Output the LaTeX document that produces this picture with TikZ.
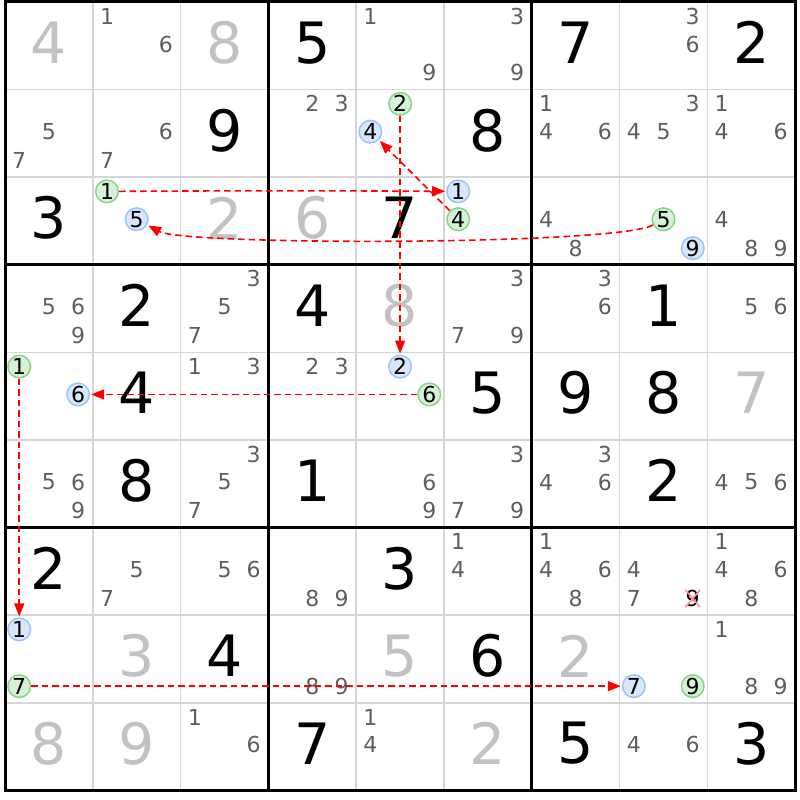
\documentclass[tikz,border=0pt]{standalone}
\usepackage{fontspec}
\setmainfont{DejaVu Sans}
\usetikzlibrary{calc,arrows.meta}

\definecolor{candgray}{HTML}{5E5E5E}
\definecolor{solvedgray}{HTML}{C2C2C2}
\definecolor{linegray}{HTML}{D6D6D6}
\definecolor{onfill}{HTML}{D6F2D6}
\definecolor{ondraw}{HTML}{86D686}
\definecolor{offfill}{HTML}{D8E8FC}
\definecolor{offdraw}{HTML}{98C6FA}
\definecolor{elimred}{HTML}{FF8A8A}
\definecolor{linkred}{HTML}{FF0000}

\begin{document}
\begin{tikzpicture}[x=87.8pt,y=-87.6pt]

\tikzset{inner sep=0pt,
given/.style={font=\fontsize{57}{57}\selectfont,text=black},
solved/.style={font=\fontsize{57}{57}\selectfont,text=solvedgray},
cand/.style={font=\fontsize{22}{22}\selectfont,text=candgray},
oncand/.style={circle,minimum size=22.6pt,line width=1.5pt,draw=ondraw,fill=onfill,font=\fontsize{22}{22}\selectfont,text=black},
offcand/.style={circle,minimum size=22.6pt,line width=1.5pt,draw=offdraw,fill=offfill,font=\fontsize{22}{22}\selectfont,text=black},
thinline/.style={line width=1.6pt,draw=linegray},
boxline/.style={line width=3pt,draw=black,line cap=rect},
chain/.style={->,>={Triangle[length=13pt,width=10pt]},color=linkred,line width=1.6pt,dash pattern=on 6.5pt off 4pt,shorten >=1pt},
elim/.style={elimred,line width=1.6pt}}

\useasboundingbox (-0.057,-0.0228) rectangle (9.0547,9.1096);

% Grid
\draw[thinline] (1,0) -- (1,9) (2,0) -- (2,9) (4,0) -- (4,9) (5,0) -- (5,9) (7,0) -- (7,9) (8,0) -- (8,9);
\draw[thinline] (0,1) -- (9,1) (0,2) -- (9,2) (0,4) -- (9,4) (0,5) -- (9,5) (0,7) -- (9,7) (0,8) -- (9,8);
\draw[boxline] (0,0) rectangle (9,9);
\draw[boxline] (3,0) -- (3,9) (6,0) -- (6,9) (0,3) -- (9,3) (0,6) -- (9,6);

% Nodes: cell centres and candidate offsets
\coordinate (col1) at (0.5,0);
\coordinate (col2) at (1.5,0);
\coordinate (col3) at (2.5,0);
\coordinate (col4) at (3.5,0);
\coordinate (col5) at (4.5,0);
\coordinate (col6) at (5.5,0);
\coordinate (col7) at (6.5,0);
\coordinate (col8) at (7.5,0);
\coordinate (col9) at (8.5,0);
\coordinate (row1) at (0,0.5);
\coordinate (row2) at (0,1.5);
\coordinate (row3) at (0,2.5);
\coordinate (row4) at (0,3.5);
\coordinate (row5) at (0,4.5);
\coordinate (row6) at (0,5.5);
\coordinate (row7) at (0,6.5);
\coordinate (row8) at (0,7.5);
\coordinate (row9) at (0,8.5);
\coordinate (mid) at (0,-0.035);
\coordinate (sub1) at (-0.338,-0.338);
\coordinate (sub2) at (0,-0.338);
\coordinate (sub3) at (0.333,-0.338);
\coordinate (sub4) at (-0.338,-0.02);
\coordinate (sub5) at (0,-0.02);
\coordinate (sub6) at (0.333,-0.02);
\coordinate (sub7) at (-0.338,0.31);
\coordinate (sub8) at (0,0.31);
\coordinate (sub9) at (0.333,0.31);

% Givens and solved cells
\node[solved] (r1c1) at ($(col1) + (row1) + (mid)$) {4};
\node[solved] (r1c3) at ($(col3) + (row1) + (mid)$) {8};
\node[given] (r1c4) at ($(col4) + (row1) + (mid)$) {5};
\node[given] (r1c7) at ($(col7) + (row1) + (mid)$) {7};
\node[given] (r1c9) at ($(col9) + (row1) + (mid)$) {2};

\node[given] (r2c3) at ($(col3) + (row2) + (mid)$) {9};
\node[given] (r2c6) at ($(col6) + (row2) + (mid)$) {8};

\node[given] (r3c1) at ($(col1) + (row3) + (mid)$) {3};
\node[solved] (r3c3) at ($(col3) + (row3) + (mid)$) {2};
\node[solved] (r3c4) at ($(col4) + (row3) + (mid)$) {6};
\node[given] (r3c5) at ($(col5) + (row3) + (mid)$) {7};

\node[given] (r4c2) at ($(col2) + (row4) + (mid)$) {2};
\node[given] (r4c4) at ($(col4) + (row4) + (mid)$) {4};
\node[solved] (r4c5) at ($(col5) + (row4) + (mid)$) {8};
\node[given] (r4c8) at ($(col8) + (row4) + (mid)$) {1};

\node[given] (r5c2) at ($(col2) + (row5) + (mid)$) {4};
\node[given] (r5c6) at ($(col6) + (row5) + (mid)$) {5};
\node[given] (r5c7) at ($(col7) + (row5) + (mid)$) {9};
\node[given] (r5c8) at ($(col8) + (row5) + (mid)$) {8};
\node[solved] (r5c9) at ($(col9) + (row5) + (mid)$) {7};

\node[given] (r6c2) at ($(col2) + (row6) + (mid)$) {8};
\node[given] (r6c4) at ($(col4) + (row6) + (mid)$) {1};
\node[given] (r6c8) at ($(col8) + (row6) + (mid)$) {2};

\node[given] (r7c1) at ($(col1) + (row7) + (mid)$) {2};
\node[given] (r7c5) at ($(col5) + (row7) + (mid)$) {3};

\node[solved] (r8c2) at ($(col2) + (row8) + (mid)$) {3};
\node[given] (r8c3) at ($(col3) + (row8) + (mid)$) {4};
\node[solved] (r8c5) at ($(col5) + (row8) + (mid)$) {5};
\node[given] (r8c6) at ($(col6) + (row8) + (mid)$) {6};
\node[solved] (r8c7) at ($(col7) + (row8) + (mid)$) {2};

\node[solved] (r9c1) at ($(col1) + (row9) + (mid)$) {8};
\node[solved] (r9c2) at ($(col2) + (row9) + (mid)$) {9};
\node[given] (r9c4) at ($(col4) + (row9) + (mid)$) {7};
\node[solved] (r9c6) at ($(col6) + (row9) + (mid)$) {2};
\node[given] (r9c7) at ($(col7) + (row9) + (mid)$) {5};
\node[given] (r9c9) at ($(col9) + (row9) + (mid)$) {3};

% Candidates
%row1
\node[cand] (r1c2n1) at ($(col2) + (row1) + (sub1)$) {1};
\node[cand] (r1c2n6) at ($(col2) + (row1) + (sub6)$) {6};
\node[cand] (r1c5n1) at ($(col5) + (row1) + (sub1)$) {1};
\node[cand] (r1c5n9) at ($(col5) + (row1) + (sub9)$) {9};
\node[cand] (r1c6n3) at ($(col6) + (row1) + (sub3)$) {3};
\node[cand] (r1c6n9) at ($(col6) + (row1) + (sub9)$) {9};
\node[cand] (r1c8n3) at ($(col8) + (row1) + (sub3)$) {3};
\node[cand] (r1c8n6) at ($(col8) + (row1) + (sub6)$) {6};

%row2
\node[cand] (r2c1n5) at ($(col1) + (row2) + (sub5)$) {5};
\node[cand] (r2c1n7) at ($(col1) + (row2) + (sub7)$) {7};
\node[cand] (r2c2n6) at ($(col2) + (row2) + (sub6)$) {6};
\node[cand] (r2c2n7) at ($(col2) + (row2) + (sub7)$) {7};
\node[cand] (r2c4n2) at ($(col4) + (row2) + (sub2)$) {2};
\node[cand] (r2c4n3) at ($(col4) + (row2) + (sub3)$) {3};
\node[oncand] (r2c5n2) at ($(col5) + (row2) + (sub2)$) {2};
\node[offcand] (r2c5n4) at ($(col5) + (row2) + (sub4)$) {4};
\node[cand] (r2c7n1) at ($(col7) + (row2) + (sub1)$) {1};
\node[cand] (r2c7n4) at ($(col7) + (row2) + (sub4)$) {4};
\node[cand] (r2c7n6) at ($(col7) + (row2) + (sub6)$) {6};
\node[cand] (r2c8n3) at ($(col8) + (row2) + (sub3)$) {3};
\node[cand] (r2c8n4) at ($(col8) + (row2) + (sub4)$) {4};
\node[cand] (r2c8n5) at ($(col8) + (row2) + (sub5)$) {5};
\node[cand] (r2c9n1) at ($(col9) + (row2) + (sub1)$) {1};
\node[cand] (r2c9n4) at ($(col9) + (row2) + (sub4)$) {4};
\node[cand] (r2c9n6) at ($(col9) + (row2) + (sub6)$) {6};

%row3
\node[oncand] (r3c2n1) at ($(col2) + (row3) + (sub1)$) {1};
\node[offcand] (r3c2n5) at ($(col2) + (row3) + (sub5)$) {5};
\node[offcand] (r3c6n1) at ($(col6) + (row3) + (sub1)$) {1};
\node[oncand] (r3c6n4) at ($(col6) + (row3) + (sub4)$) {4};
\node[cand] (r3c7n4) at ($(col7) + (row3) + (sub4)$) {4};
\node[cand] (r3c7n8) at ($(col7) + (row3) + (sub8)$) {8};
\node[oncand] (r3c8n5) at ($(col8) + (row3) + (sub5)$) {5};
\node[offcand] (r3c8n9) at ($(col8) + (row3) + (sub9)$) {9};
\node[cand] (r3c9n4) at ($(col9) + (row3) + (sub4)$) {4};
\node[cand] (r3c9n8) at ($(col9) + (row3) + (sub8)$) {8};
\node[cand] (r3c9n9) at ($(col9) + (row3) + (sub9)$) {9};

%row4
\node[cand] (r4c1n5) at ($(col1) + (row4) + (sub5)$) {5};
\node[cand] (r4c1n6) at ($(col1) + (row4) + (sub6)$) {6};
\node[cand] (r4c1n9) at ($(col1) + (row4) + (sub9)$) {9};
\node[cand] (r4c3n3) at ($(col3) + (row4) + (sub3)$) {3};
\node[cand] (r4c3n5) at ($(col3) + (row4) + (sub5)$) {5};
\node[cand] (r4c3n7) at ($(col3) + (row4) + (sub7)$) {7};
\node[cand] (r4c6n3) at ($(col6) + (row4) + (sub3)$) {3};
\node[cand] (r4c6n7) at ($(col6) + (row4) + (sub7)$) {7};
\node[cand] (r4c6n9) at ($(col6) + (row4) + (sub9)$) {9};
\node[cand] (r4c7n3) at ($(col7) + (row4) + (sub3)$) {3};
\node[cand] (r4c7n6) at ($(col7) + (row4) + (sub6)$) {6};
\node[cand] (r4c9n5) at ($(col9) + (row4) + (sub5)$) {5};
\node[cand] (r4c9n6) at ($(col9) + (row4) + (sub6)$) {6};

%row5
\node[oncand] (r5c1n1) at ($(col1) + (row5) + (sub1)$) {1};
\node[offcand] (r5c1n6) at ($(col1) + (row5) + (sub6)$) {6};
\node[cand] (r5c3n1) at ($(col3) + (row5) + (sub1)$) {1};
\node[cand] (r5c3n3) at ($(col3) + (row5) + (sub3)$) {3};
\node[cand] (r5c4n2) at ($(col4) + (row5) + (sub2)$) {2};
\node[cand] (r5c4n3) at ($(col4) + (row5) + (sub3)$) {3};
\node[offcand] (r5c5n2) at ($(col5) + (row5) + (sub2)$) {2};
\node[oncand] (r5c5n6) at ($(col5) + (row5) + (sub6)$) {6};

%row6
\node[cand] (r6c1n5) at ($(col1) + (row6) + (sub5)$) {5};
\node[cand] (r6c1n6) at ($(col1) + (row6) + (sub6)$) {6};
\node[cand] (r6c1n9) at ($(col1) + (row6) + (sub9)$) {9};
\node[cand] (r6c3n3) at ($(col3) + (row6) + (sub3)$) {3};
\node[cand] (r6c3n5) at ($(col3) + (row6) + (sub5)$) {5};
\node[cand] (r6c3n7) at ($(col3) + (row6) + (sub7)$) {7};
\node[cand] (r6c5n6) at ($(col5) + (row6) + (sub6)$) {6};
\node[cand] (r6c5n9) at ($(col5) + (row6) + (sub9)$) {9};
\node[cand] (r6c6n3) at ($(col6) + (row6) + (sub3)$) {3};
\node[cand] (r6c6n7) at ($(col6) + (row6) + (sub7)$) {7};
\node[cand] (r6c6n9) at ($(col6) + (row6) + (sub9)$) {9};
\node[cand] (r6c7n3) at ($(col7) + (row6) + (sub3)$) {3};
\node[cand] (r6c7n4) at ($(col7) + (row6) + (sub4)$) {4};
\node[cand] (r6c7n6) at ($(col7) + (row6) + (sub6)$) {6};
\node[cand] (r6c9n4) at ($(col9) + (row6) + (sub4)$) {4};
\node[cand] (r6c9n5) at ($(col9) + (row6) + (sub5)$) {5};
\node[cand] (r6c9n6) at ($(col9) + (row6) + (sub6)$) {6};

%row7
\node[cand] (r7c2n5) at ($(col2) + (row7) + (sub5)$) {5};
\node[cand] (r7c2n7) at ($(col2) + (row7) + (sub7)$) {7};
\node[cand] (r7c3n5) at ($(col3) + (row7) + (sub5)$) {5};
\node[cand] (r7c3n6) at ($(col3) + (row7) + (sub6)$) {6};
\node[cand] (r7c4n8) at ($(col4) + (row7) + (sub8)$) {8};
\node[cand] (r7c4n9) at ($(col4) + (row7) + (sub9)$) {9};
\node[cand] (r7c6n1) at ($(col6) + (row7) + (sub1)$) {1};
\node[cand] (r7c6n4) at ($(col6) + (row7) + (sub4)$) {4};
\node[cand] (r7c7n1) at ($(col7) + (row7) + (sub1)$) {1};
\node[cand] (r7c7n4) at ($(col7) + (row7) + (sub4)$) {4};
\node[cand] (r7c7n6) at ($(col7) + (row7) + (sub6)$) {6};
\node[cand] (r7c7n8) at ($(col7) + (row7) + (sub8)$) {8};
\node[cand] (r7c8n4) at ($(col8) + (row7) + (sub4)$) {4};
\node[cand] (r7c8n7) at ($(col8) + (row7) + (sub7)$) {7};
\node[cand,text=black] (r7c8n9) at ($(col8) + (row7) + (sub9)$) {9};
\node[cand] (r7c9n1) at ($(col9) + (row7) + (sub1)$) {1};
\node[cand] (r7c9n4) at ($(col9) + (row7) + (sub4)$) {4};
\node[cand] (r7c9n6) at ($(col9) + (row7) + (sub6)$) {6};
\node[cand] (r7c9n8) at ($(col9) + (row7) + (sub8)$) {8};

%row8
\node[offcand] (r8c1n1) at ($(col1) + (row8) + (sub1)$) {1};
\node[oncand] (r8c1n7) at ($(col1) + (row8) + (sub7)$) {7};
\node[cand] (r8c4n8) at ($(col4) + (row8) + (sub8)$) {8};
\node[cand] (r8c4n9) at ($(col4) + (row8) + (sub9)$) {9};
\node[offcand] (r8c8n7) at ($(col8) + (row8) + (sub7)$) {7};
\node[oncand] (r8c8n9) at ($(col8) + (row8) + (sub9)$) {9};
\node[cand] (r8c9n1) at ($(col9) + (row8) + (sub1)$) {1};
\node[cand] (r8c9n8) at ($(col9) + (row8) + (sub8)$) {8};
\node[cand] (r8c9n9) at ($(col9) + (row8) + (sub9)$) {9};

%row9
\node[cand] (r9c3n1) at ($(col3) + (row9) + (sub1)$) {1};
\node[cand] (r9c3n6) at ($(col3) + (row9) + (sub6)$) {6};
\node[cand] (r9c5n1) at ($(col5) + (row9) + (sub1)$) {1};
\node[cand] (r9c5n4) at ($(col5) + (row9) + (sub4)$) {4};
\node[cand] (r9c8n4) at ($(col8) + (row9) + (sub4)$) {4};
\node[cand] (r9c8n6) at ($(col8) + (row9) + (sub6)$) {6};

% Chain links
\draw[chain] (r3c2n1) to[bend left=0.3] (r3c6n1);
\draw[chain] (r3c6n4) -- (r2c5n4);
\draw[chain] (r3c8n5) .. controls +(-0.55,0.3) and +(0.55,0.3) .. (r3c2n5);
\draw[chain] (r2c5n2) -- (r5c5n2);
\draw[chain] (r5c5n6) -- (r5c1n6);
\draw[chain] (r5c1n1.south) -- (r8c1n1.north);
\draw[chain] (r8c1n7) -- (r8c8n7);

% Eliminated candidate
\draw[elim] (r7c8n9.north west) -- (r7c8n9.south east);
\draw[elim] (r7c8n9.south west) -- (r7c8n9.north east);

\end{tikzpicture}
\end{document}
